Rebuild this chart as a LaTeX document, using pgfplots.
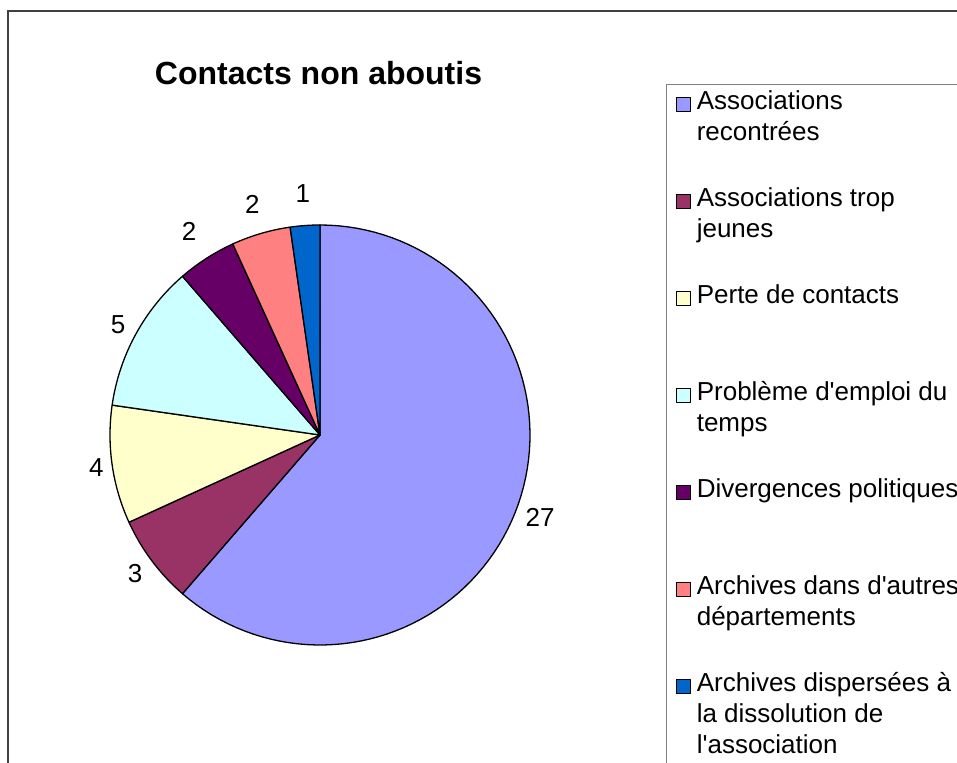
\documentclass[border=0pt]{standalone}
\usepackage{pgfplots}
\pgfplotsset{compat=1.18}
\usepackage{fontspec}
\setmainfont{Liberation Sans}
\definecolor{c1}{HTML}{9999FF}
\definecolor{c2}{HTML}{993366}
\definecolor{c3}{HTML}{FFFFCC}
\definecolor{c4}{HTML}{CCFFFF}
\definecolor{c5}{HTML}{660066}
\definecolor{c6}{HTML}{FF8080}
\definecolor{c7}{HTML}{0066CC}
\newcommand\lblfont{\fontsize{26}{31}\selectfont}
\newcommand\legfont{\fontsize{26}{31}\selectfont}
\newcommand\titlefont{\fontsize{32}{38}\selectfont\bfseries}
\newcommand\lent[1]{\parbox[t]{285pt}{\raggedright #1}}
\newcommand\q{\textquotesingle}
\def\total{44}
\def\cx{320}\def\cy{327}\def\R{210}
% #1 = cumulative value before the slice, #2 = value, #3 = colour, #4 = label distance
\newcommand\slice[4]{%
  \pgfmathsetmacro\sA{90-360*#1/\total}%
  \pgfmathsetmacro\sB{90-360*(#1+#2)/\total}%
  \pgfmathsetmacro\sM{(\sA+\sB)/2}%
  \pgfmathsetmacro\lx{\cx+#4*cos(\sM)}%
  \pgfmathsetmacro\ly{\cy+#4*sin(\sM)}%
  \edef\doslice{%
    \noexpand\addplot[fill=#3, draw=black, line width=1.3pt, line join=round, domain=\sB:\sA, samples=90]
      ({\cx+\R*cos(x)},{\cy+\R*sin(x)}) -- (axis cs:\cx,\cy) -- cycle;
    \noexpand\node[font=\noexpand\lblfont] at (axis cs:\lx,\ly) {#2};
  }\doslice}
\begin{document}
\begin{tikzpicture}
\path[use as bounding box] (0,0) rectangle (957pt,762pt);
\clip (0,0) rectangle (957pt,762pt);
\begin{axis}[
  at={(0,0)}, anchor=south west,
  width=957pt, height=762pt, scale only axis,
  xmin=0, xmax=957, ymin=0, ymax=762,
  hide axis, clip=false,
  legend image code/.code={\draw[#1, draw=black, line width=1.2pt] (0pt,-2pt) rectangle (14pt,12pt);},
  legend style={at={(axis cs:666,678)}, anchor=north west, draw=gray, line width=1.2pt, fill=white,
    inner xsep=9pt, inner ysep=3pt, column sep=6pt, row sep=0pt,
    cells={anchor=base west}, nodes={inner sep=0pt, text height=22pt, text depth=75pt}, font=\legfont},
  legend entries={
    {\lent{Associations\\recontrées}},
    {\lent{Associations trop\\jeunes}},
    {\lent{Perte de contacts}},
    {\lent{Problème d\q emploi du\\temps}},
    {\lent{Divergences politiques}},
    {\lent{Archives dans d\q autres\\départements}},
    {\lent{Archives dispersées à\\la dissolution de\\l\q association}}
  },
]
\draw[line width=1.2pt, black!75] (axis cs:8,-60) rectangle (axis cs:1100,751);
\slice{0}{27}{c1}{235}
\slice{27}{3}{c2}{231}
\slice{30}{4}{c3}{226}
\slice{34}{5}{c4}{230}
\slice{39}{2}{c5}{242}
\slice{41}{2}{c6}{240}
\slice{43}{1}{c7}{242}
\node[font=\titlefont, anchor=base] at (axis cs:318.5,677) {Contacts non aboutis};
\end{axis}
\end{tikzpicture}
\end{document}
